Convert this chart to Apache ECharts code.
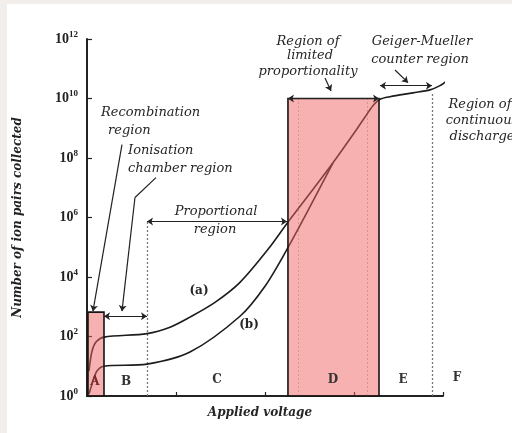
<!DOCTYPE html>
<html><head><meta charset="utf-8">
<script src="https://cdn.jsdelivr.net/npm/echarts@6/dist/echarts.min.js"></script>
<style>html,body{margin:0;padding:0;background:#fff}#c{width:512px;height:433px}</style>
</head><body><div id="c"></div>
<script>
// x: applied voltage (arbitrary units, ticks at 0..4); y: number of ion pairs (log)
const xTicks = [0, 1, 2, 3, 4];
const yTickExponents = [0, 2, 4, 6, 8, 10, 12];
const curveA = [
  [0.022, 6.9], [0.056, 32], [0.101, 65], [0.191, 95], [0.674, 125], [0.933, 205],
  [1.157, 447], [1.438, 1400], [1.719, 6600], [2.034, 85000], [2.247, 6.3e5],
  [2.506, 6.5e6], [2.764, 6.9e7], [3.011, 7.6e8], [3.124, 2.4e9], [3.213, 5.7e9],
  [3.292, 9.4e9], [3.404, 1.15e10], [3.663, 1.55e10], [3.854, 1.95e10], [3.966, 2.7e10],
  [4.045, 3.9e10], [4.079, 4.3e10]
];
const curveB = [
  [0.022, 1.17], [0.056, 2.5], [0.112, 6.9], [0.191, 10], [0.674, 11.8],
  [1.157, 30], [1.719, 480], [2.0, 4900], [2.247, 85000], [2.506, 2.3e6], [2.764, 6.9e7]
];
// shaded regions: [x0, y0, x1, y1]
const regionRects = [
  [0.011, 1, 0.191, 660],
  [2.258, 1, 3.281, 1e10]
];
// dotted boundaries
const dottedLines = [
  [[0.674, 1], [0.674, 7.4e5]],
  [[3.876, 1], [3.876, 1.66e10]]
];
const faintLines = [
  [[2.37, 1], [2.37, 1e10]],
  [[3.146, 1], [3.146, 1e10]]
];
// double-headed range arrows
const rangeArrows = [
  [[0.191, 480], [0.674, 480]],
  [[0.674, 7.4e5], [2.247, 7.4e5]],
  [[2.258, 1e10], [3.281, 1e10]],
  [[3.292, 2.7e10], [3.876, 2.7e10]]
];
// pointer segments without head, and pointer arrows with head
const pointerTails = [
  [[0.775, 2.2e7], [0.539, 4.7e6]]
];
const pointers = [
  [[0.393, 2.8e8], [0.067, 710]],
  [[0.539, 4.7e6], [0.393, 710]],
  [[2.674, 4.9e10], [2.742, 1.8e10]],
  [[3.461, 9.1e10], [3.607, 3.4e10]],
  [[4.225, 1.15e10], [4.056, 3.1e10]]
];
const regionLetters = ['A', 'B', 'C', 'D', 'E', 'F'];

const chart = echarts.init(document.getElementById('c'));
const txt = '#262626';
const annFont = 'italic 13px "DejaVu Serif"';
function T(text, x, y, align, font, fill) {
  return { type: 'text', x: x, y: y, z: 10,
    style: { text: text, font: font || annFont, fill: fill || txt,
      align: align || 'center', verticalAlign: 'middle',
      textAlign: align || 'center', textVerticalAlign: 'middle' } };
}
const letterFont = 'bold 12px "DejaVu Serif"';
const letterPos = [[95, 382], [126, 382], [217, 380], [333, 380], [403, 380], [457, 378]];
const graphics = [
  { type: 'rect', shape: { x: 0, y: 0, width: 7, height: 433 }, style: { fill: '#f2eeeb' }, z: 0 },
  { type: 'rect', shape: { x: 0, y: 0, width: 512, height: 4 }, style: { fill: '#f2eeeb' }, z: 0 },
  T('Recombination', 101, 113, 'left'),
  T('region', 108, 131, 'left'),
  T('Ionisation', 128, 151, 'left'),
  T('chamber region', 128, 169, 'left'),
  T('Proportional', 216, 212),
  T('region', 215, 230),
  T('Region of', 308, 42),
  T('limited', 310, 56),
  T('proportionality', 308, 72),
  T('Geiger-Mueller', 422, 42),
  T('counter region', 420, 60),
  T('Region of', 480, 105),
  T('continuous', 482, 121),
  T('discharge', 482, 137),
  T('(a)', 199, 291, 'center', 'bold 12px "DejaVu Serif"'),
  T('(b)', 249, 325, 'center', 'bold 12px "DejaVu Serif"'),
  T('Applied voltage', 260, 413, 'center', 'bold italic 12px "DejaVu Serif"')
];
regionLetters.forEach((l, i) => {
  graphics.push(T(l, letterPos[i][0], letterPos[i][1], 'center', letterFont, i === 0 ? '#7a2a2a' : '#333'));
});

const lineStyleBase = { color: '#1c1c1c', width: 1.6 };
const arrowStyle = { color: '#222', width: 1.2, opacity: 1 };
chart.setOption({
  backgroundColor: '#ffffff',
  animation: false,
  grid: { left: 87, right: 69, top: 39, bottom: 37 },
  xAxis: {
    type: 'value', min: xTicks[0], max: xTicks[xTicks.length - 1], interval: 1,
    axisLine: { lineStyle: { color: '#222', width: 2 } },
    axisTick: { inside: true, length: 4, lineStyle: { color: '#222', width: 1.2 } },
    axisLabel: { show: false }, splitLine: { show: false }
  },
  yAxis: {
    type: 'log', logBase: 10, min: Math.pow(10, yTickExponents[0]),
    max: Math.pow(10, yTickExponents[yTickExponents.length - 1]), interval: 2,
    name: 'Number of ion pairs collected', nameLocation: 'middle', nameGap: 63, nameRotate: 90,
    nameTextStyle: { fontFamily: 'DejaVu Serif', fontStyle: 'italic', fontWeight: 'bold', fontSize: 12, color: '#222' },
    axisLine: { show: true, lineStyle: { color: '#222', width: 2 } },
    axisTick: { inside: true, length: 5, lineStyle: { color: '#222', width: 1.2 } },
    splitLine: { show: false },
    axisLabel: {
      margin: 9,
      formatter: function (v) { return '{b|10}{s|' + Math.round(Math.log10(v)) + '}'; },
      rich: {
        b: { fontFamily: 'Liberation Serif', fontWeight: 'bold', fontSize: 14, color: '#222', lineHeight: 18 },
        s: { fontFamily: 'Liberation Serif', fontWeight: 'bold', fontSize: 9, color: '#222', verticalAlign: 'top', lineHeight: 18 }
      }
    }
  },
  graphic: { elements: graphics },
  series: [
    { type: 'line', name: '(a)', data: curveA, showSymbol: false, smooth: 0.3, clip: false, z: 2, lineStyle: lineStyleBase },
    { type: 'line', name: '(b)', data: curveB, showSymbol: false, smooth: 0.3, clip: false, z: 2, lineStyle: lineStyleBase },
    { type: 'lines', coordinateSystem: 'cartesian2d', z: 1, symbol: 'none',
      lineStyle: { color: '#777', width: 1.3, type: [2, 2], opacity: 1 },
      data: dottedLines.map(c => ({ coords: c })) },
    { type: 'lines', coordinateSystem: 'cartesian2d', z: 1, symbol: 'none',
      lineStyle: { color: '#c0c0c0', width: 1, type: [2, 2], opacity: 1 },
      data: faintLines.map(c => ({ coords: c })) },
    { type: 'custom', z: 3, clip: false,
      data: regionRects,
      encode: { x: [0, 2], y: [1, 3] },
      renderItem: function (params, api) {
        const p0 = api.coord([api.value(0), api.value(3)]);
        const p1 = api.coord([api.value(2), api.value(1)]);
        return { type: 'rect', shape: { x: p0[0], y: p0[1], width: p1[0] - p0[0], height: p1[1] - p0[1] },
          style: { fill: 'rgba(240,100,100,0.5)', stroke: '#151515', lineWidth: 1.6 } };
      } },
    { type: 'lines', coordinateSystem: 'cartesian2d', z: 4,
      symbol: ['arrow', 'arrow'], symbolSize: 6,
      lineStyle: arrowStyle,
      data: rangeArrows.map(c => ({ coords: c })) },
    { type: 'lines', coordinateSystem: 'cartesian2d', z: 4, symbol: 'none',
      lineStyle: arrowStyle,
      data: pointerTails.map(c => ({ coords: c })) },
    { type: 'lines', coordinateSystem: 'cartesian2d', z: 4,
      symbol: ['none', 'arrow'], symbolSize: 6,
      lineStyle: arrowStyle,
      data: pointers.map(c => ({ coords: c })) }
  ]
});
</script></body></html>
